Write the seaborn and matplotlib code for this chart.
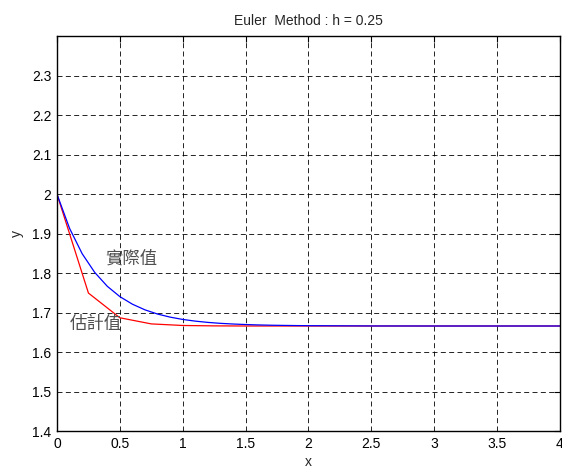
import matplotlib
matplotlib.use("Agg")
import matplotlib.pyplot as plt
import seaborn as sns
import numpy as np
import pandas as pd

# Euler estimate (h = 0.25)
x_euler = [0, 0.25, 0.5, 0.75, 1.0, 1.25, 1.5, 1.75, 2.0, 2.25, 2.5, 2.75,
           3.0, 3.25, 3.5, 3.75, 4.0]
y_euler = [2.0, 1.75, 1.6875, 1.672, 1.668, 1.667, 1.6667, 1.6667, 1.6667,
           1.6667, 1.6667, 1.6667, 1.6667, 1.6667, 1.6667, 1.6667, 1.6667]

x_true = [0, 0.1, 0.2, 0.3, 0.4, 0.5, 0.6, 0.7, 0.8, 0.9, 1.0, 1.1, 1.2, 1.3,
          1.4, 1.5, 1.6, 1.7, 1.8, 1.9, 2.0, 2.5, 3.0, 3.5, 4.0]
y_true = [2.0, 1.9136, 1.8496, 1.8022, 1.7671, 1.741, 1.7218, 1.7075, 1.6969,
          1.6891, 1.6833, 1.679, 1.6758, 1.6734, 1.6717, 1.6704, 1.6694,
          1.6687, 1.6682, 1.6678, 1.6675, 1.6668, 1.6667, 1.6667, 1.6667]

x_ticks = [0, 0.5, 1, 1.5, 2, 2.5, 3, 3.5, 4]
y_ticks = [1.4, 1.5, 1.6, 1.7, 1.8, 1.9, 2, 2.1, 2.2, 2.3]

df_euler = pd.DataFrame({'x': x_euler, 'y': y_euler})
df_true = pd.DataFrame({'x': x_true, 'y': y_true})

sns.set_style('white')
plt.rcParams['font.family'] = ['Liberation Sans', 'DejaVu Sans']

fig = plt.figure(figsize=(5.62, 4.69), dpi=100)
ax = fig.add_axes([0.1014, 0.080, 0.895, 0.8433])

sns.lineplot(data=df_euler, x='x', y='y', color='red', lw=0.9, ax=ax)
sns.lineplot(data=df_true, x='x', y='y', color='blue', lw=0.9, ax=ax)

ax.set_xlim(0, 4)
ax.set_ylim(1.4, 2.4)
ax.set_xticks(x_ticks)
ax.set_xticklabels(['0', '0.5', '1', '1.5', '2', '2.5', '3', '3.5', '4'])
ax.set_yticks(y_ticks)
ax.set_yticklabels(['1.4', '1.5', '1.6', '1.7', '1.8', '1.9', '2', '2.1', '2.2', '2.3'])
ax.tick_params(direction='in', length=4, width=0.8, labelsize=10, colors='black',
               top=True, right=True, pad=4)
ax.grid(True, color='black', linestyle=(0, (6, 4)), linewidth=0.6)
for s in ax.spines.values():
    s.set_color('black')
    s.set_linewidth(1)

ax.set_xlabel('x', fontsize=10, labelpad=3)
ax.set_ylabel('y', fontsize=10, labelpad=6)
ax.set_title('Euler  Method : h = 0.25', fontsize=10, pad=8)

cjk = ['Noto Sans CJK TC', 'DejaVu Sans']
ax.text(0.38, 1.836, '實際值', fontsize=12.5, color='#505050', family=cjk, va='center')
ax.text(0.10, 1.672, '估計值', fontsize=12.5, color='#505050', family=cjk, va='center')

fig.savefig('out.png', dpi=100)
